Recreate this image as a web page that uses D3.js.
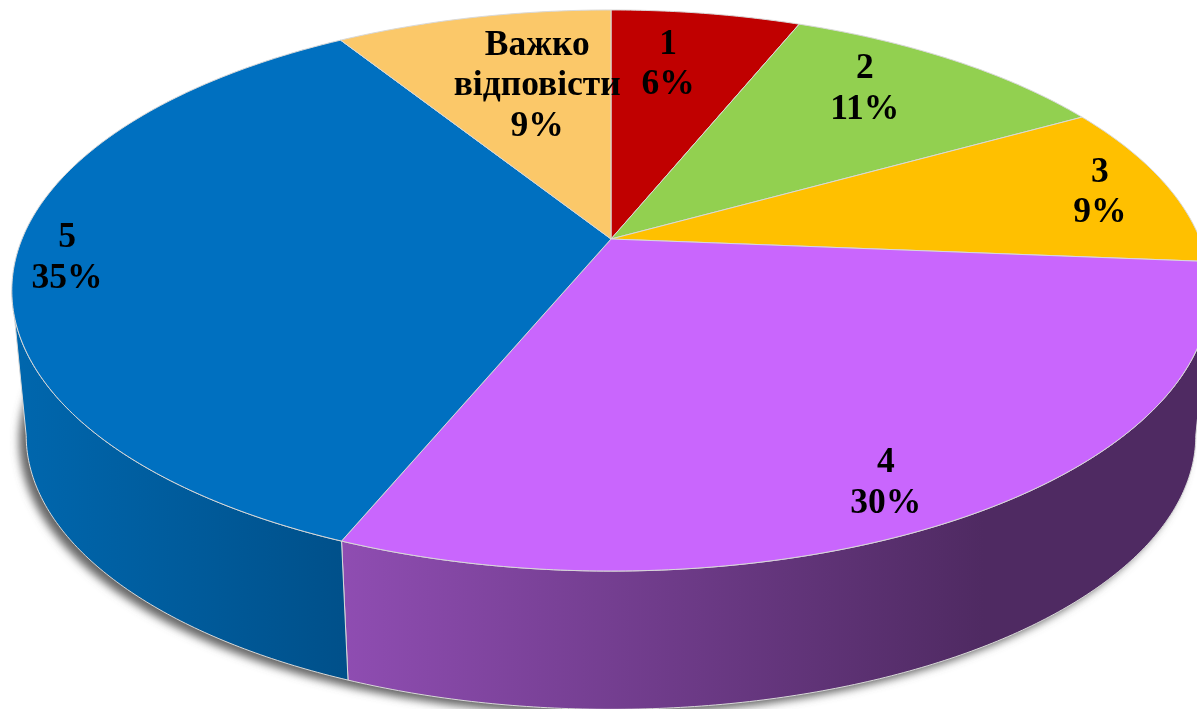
<!DOCTYPE html>
<html>
<head>
<meta charset="utf-8">
<script src="https://cdn.jsdelivr.net/npm/d3@7"></script>
<style>
body { margin: 0; background: #fff; overflow: hidden; }
svg { display: block; filter: blur(0.5px); }
.label { font-family: "Liberation Serif", serif; font-weight: bold; font-size: 35.5px; fill: #000; text-anchor: middle; }
.edge { stroke: #d9d9d9; stroke-width: 1; stroke-linejoin: round; }
</style>
</head>
<body>
<script>
(function(){

//chart data (slice sizes estimated, the labels show them rounded)
var categories = ["1", "2", "3", "4", "5", "Важко|відповісти"];
var percents = [6.1, 10.75, 9.45, 29.9, 34.9, 8.9];
var topColors = ["#C00000", "#92D050", "#FFC000", "#C966FD", "#0070C0", "#FBC869"];
//side wall gradient, left to right (only the front slices show a wall)
var wallColors = {
    "4": ["#8F4DB2", "#4F2A62"],
    "5": ["#0067AE", "#00508A"]
};
//where each label sits: fraction of the radius along the slice middle, then a small nudge
var labelRadius = [0.75, 0.78, 0.875, 0.86, 0.917, 0.65];
var labelNudge = [[-17, 0], [-20, -8], [2, 1], [-31, 13], [2, -4], [21, -3]];

//frame
var width = 1197,
    height = 709;

//perspective of the pie top: fitted to centre, back and front of the disc
var cx = 611,
    radius = 589,
    persp = -0.1836,
    yA = 227.2,
    yB = 239;

//bottom disc is the top one shrunk towards a far vanishing point
var wallShrink = 0.976,
    wallLift = 152;

function projectTop(angle, frac){
    var x = Math.sin(angle) * frac,
        t = -Math.cos(angle) * frac,
        w = 1 + persp * t;
    return [cx + radius * x / w, (yA * t + yB) / w];
}

function projectBottom(angle){
    var p = projectTop(angle, 1);
    return [cx + (p[0] - cx) * wallShrink, p[1] * wallShrink + wallLift];
}

function arcAngles(a0, a1){
    var n = Math.max(2, Math.ceil((a1 - a0) / 0.01));
    return d3.range(n + 1).map(function(i){ return a0 + (a1 - a0) * i / n; });
}

var line = d3.line();

var svg = d3.select("body")
    .append("svg")
    .attr("width", width)
    .attr("height", height);

var defs = svg.append("defs");

defs.append("filter")
    .attr("id", "soft")
    .attr("x", "-5%").attr("y", "-5%")
    .attr("width", "110%").attr("height", "110%")
    .append("feGaussianBlur")
    .attr("stdDeviation", 4.5);

svg.append("rect")
    .attr("width", width)
    .attr("height", height)
    .attr("fill", "#fff");

var pie = d3.pie().sort(null);
var slices = pie(percents);

//soft shadow under the pie
svg.append("path")
    .attr("d", line(arcAngles(0, 2 * Math.PI).map(projectBottom)) + "Z")
    .attr("transform", "translate(-7,5)")
    .attr("fill", "#666")
    .attr("filter", "url(#soft)");

//side walls: they run between the two points where the rim turns away from the viewer
var wallFrom = Math.PI / 2 + Math.asin(-persp),
    wallTo = Math.PI * 1.5 - Math.asin(-persp);

slices.forEach(function(d, i){
    var a0 = Math.max(d.startAngle, wallFrom),
        a1 = Math.min(d.endAngle, wallTo);
    if (a1 <= a0) return;

    var angles = arcAngles(a0, a1),
        top = angles.map(function(a){ return projectTop(a, 1); }),
        bottom = angles.map(projectBottom).reverse(),
        pts = top.concat(bottom),
        xs = d3.extent(pts, function(p){ return p[0]; }),
        cols = wallColors[categories[i]] || [topColors[i], topColors[i]],
        id = "wall" + i;

    var grad = defs.append("linearGradient")
        .attr("id", id)
        .attr("gradientUnits", "userSpaceOnUse")
        .attr("x1", xs[0]).attr("x2", Math.min(xs[1], width))
        .attr("y1", 0).attr("y2", 0);
    grad.append("stop").attr("offset", 0).attr("stop-color", cols[0]);
    grad.append("stop").attr("offset", i == 3 ? 0.75 : 1).attr("stop-color", cols[1]);

    svg.append("path")
        .attr("class", "edge")
        .attr("d", line(pts) + "Z")
        .attr("fill", "url(#" + id + ")");
});

//top of the pie
svg.selectAll(".slice")
    .data(slices)
    .enter()
    .append("path")
    .attr("class", "slice edge")
    .attr("d", function(d){
        var rim = arcAngles(d.startAngle, d.endAngle).map(function(a){ return projectTop(a, 1); });
        return line([projectTop(0, 0)].concat(rim)) + "Z";
    })
    .attr("fill", function(d, i){ return topColors[i]; });

//labels
var lineGap = 40.5;

slices.forEach(function(d, i){
    var mid = (d.startAngle + d.endAngle) / 2,
        p = projectTop(mid, labelRadius[i]),
        rows = categories[i].split("|").concat(Math.round(percents[i]) + "%"),
        top = p[1] + labelNudge[i][1] - (rows.length - 1) * lineGap / 2 + 11;

    rows.forEach(function(row, k){
        svg.append("text")
            .attr("class", "label")
            .attr("x", p[0] + labelNudge[i][0])
            .attr("y", top + k * lineGap)
            .text(row);
    });
});

})();
</script>
</body>
</html>
